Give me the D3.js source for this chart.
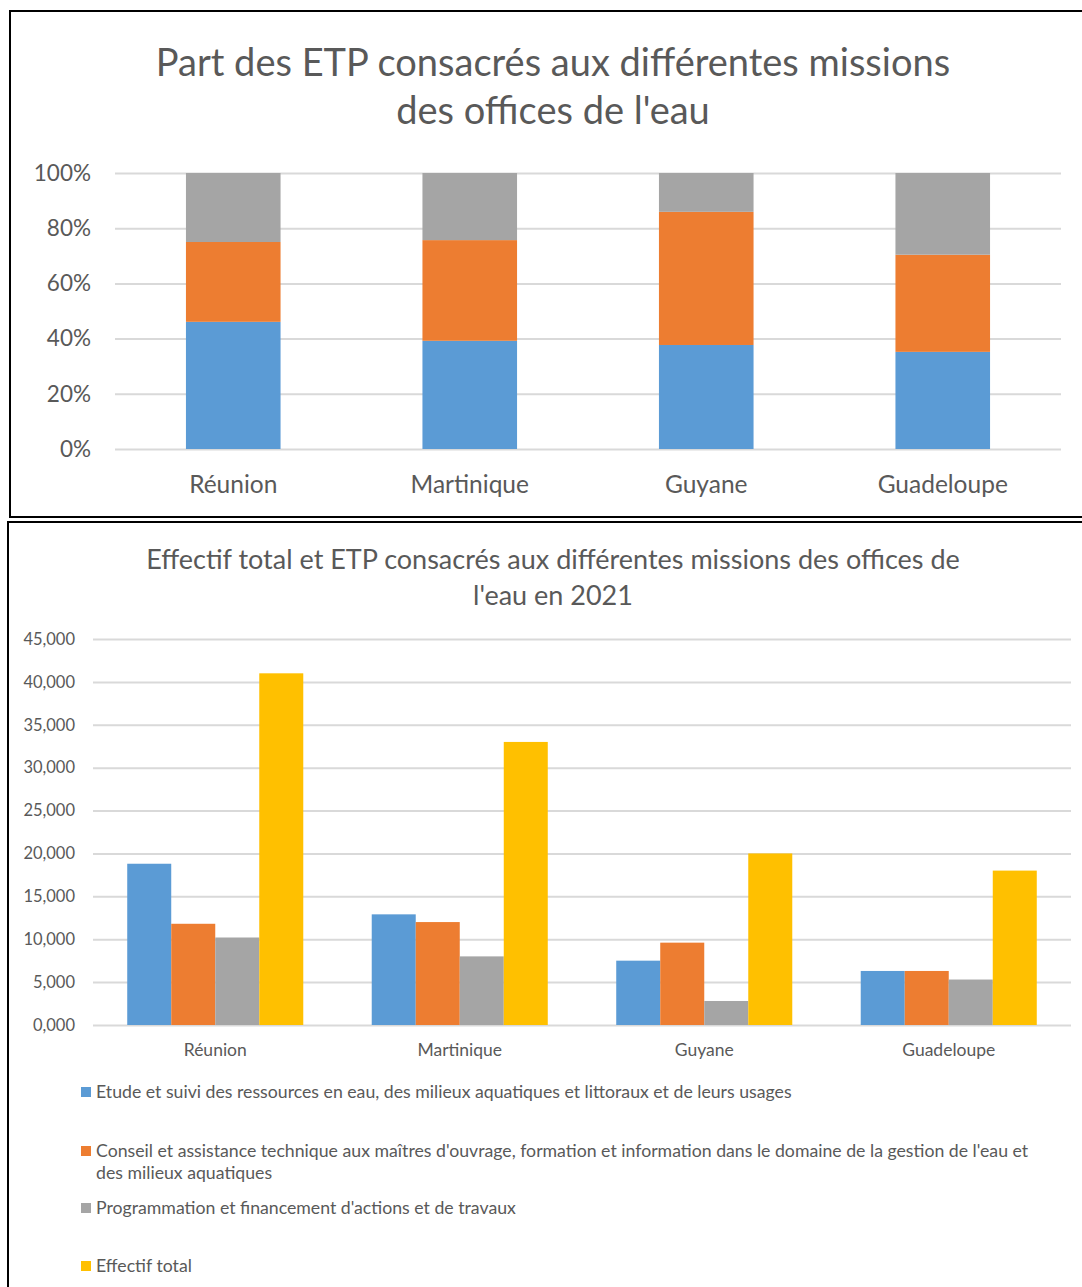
<!DOCTYPE html>
<html>
<head>
<meta charset="utf-8">
<script src="https://cdn.jsdelivr.net/npm/d3@7"></script>
<style>
  html, body { margin: 0; padding: 0; background: #fff; }
  svg { display: block; }
  text { font-family: Lato, "Open Sans", sans-serif; fill: #595959; }
</style>
</head>
<body>
<svg id="chart" width="1082" height="1287"></svg>
<script>
// ---- Data ----
const categories = ["Réunion", "Martinique", "Guyane", "Guadeloupe"];
const seriesNames = [
  "Etude et suivi des ressources en eau, des milieux aquatiques et littoraux et de leurs usages",
  "Conseil et assistance technique aux maîtres d'ouvrage, formation et information dans le domaine de la gestion de l'eau et|des milieux aquatiques",
  "Programmation et financement d'actions et de travaux",
  "Effectif total"
];
const etude = [18.8, 12.9, 7.5, 6.3];
const conseil = [11.8, 12.0, 9.6, 6.3];
const programmation = [10.2, 8.0, 2.8, 5.3];
const effectif = [41, 33, 20, 18];
const colors = ["#5B9BD5", "#ED7D31", "#A5A5A5", "#FFC000"];
const pctTicks = [0, 0.2, 0.4, 0.6, 0.8, 1.0];
const countTicks = [0, 5, 10, 15, 20, 25, 30, 35, 40, 45];
const title1 = ["Part des ETP consacrés aux différentes missions", "des offices de l'eau"];
const title2 = ["Effectif total et ETP consacrés aux différentes missions des offices de", "l'eau en 2021"];

const svg = d3.select("#chart");
const frLocale = d3.formatLocale({ decimal: ",", thousands: " ", grouping: [3], currency: ["", " €"] });
const fmtCount = frLocale.format(".3f");
const fmtPct = d3.format(".0%");

// ---- Frames ----
svg.append("rect").attr("x", 10).attr("y", 11).attr("width", 1090).attr("height", 506)
  .attr("fill", "none").attr("stroke", "#000").attr("stroke-width", 2);
svg.append("rect").attr("x", 8).attr("y", 522).attr("width", 1090).attr("height", 800)
  .attr("fill", "none").attr("stroke", "#000").attr("stroke-width", 2);

// ================= Chart 1: 100% stacked =================
const g1 = svg.append("g");
g1.selectAll("text.title").data(title1).join("text")
  .attr("x", 553).attr("y", (d, i) => 76 + i * 48)
  .attr("text-anchor", "middle").style("font-size", "38px").text(d => d);

const y1 = d3.scaleLinear().domain([0, 1]).range([449, 173]);
const x1 = d3.scaleBand().domain(categories).range([115, 1061]).paddingInner(0.6).paddingOuter(0.3);

const yAx1 = g1.append("g").attr("transform", "translate(115,0)")
  .call(d3.axisLeft(y1).tickValues(pctTicks).tickFormat(fmtPct).tickSize(-946).tickPadding(24));
yAx1.select(".domain").remove();
yAx1.selectAll(".tick line").attr("stroke", "#D9D9D9").attr("stroke-width", 2);
yAx1.selectAll(".tick text").attr("fill", "#595959").style("font-size", "22.5px").style("font-family", "Lato");

const rows = categories.map((c, i) => ({ cat: c, s0: etude[i], s1: conseil[i], s2: programmation[i] }));
const stack = d3.stack().keys(["s0", "s1", "s2"]).offset(d3.stackOffsetExpand);
const stacked = stack(rows);
g1.selectAll("g.layer").data(stacked).join("g")
  .attr("fill", (d, i) => colors[i])
  .selectAll("rect").data(d => d).join("rect")
  .attr("x", d => x1(d.data.cat))
  .attr("width", x1.bandwidth())
  .attr("y", d => y1(d[1]))
  .attr("height", d => y1(d[0]) - y1(d[1]));

const xAx1 = g1.append("g").attr("transform", "translate(0,449)")
  .call(d3.axisBottom(x1).tickSize(0).tickPadding(27));
xAx1.select(".domain").remove();
xAx1.selectAll(".tick text").attr("fill", "#595959").style("font-size", "24.5px").style("font-family", "Lato");

// ================= Chart 2: grouped bars =================
const g2 = svg.append("g");
g2.selectAll("text.title").data(title2).join("text")
  .attr("x", 553).attr("y", (d, i) => 569 + i * 36)
  .attr("text-anchor", "middle").style("font-size", "27px").text(d => d);

const y2 = d3.scaleLinear().domain([0, 45]).range([1025, 639]);
const x2 = d3.scaleBand().domain(categories).range([93, 1071]).paddingInner(0.28).paddingOuter(0.14);
const xs = d3.scaleBand().domain([0, 1, 2, 3]).range([0, x2.bandwidth()]);

const yAx2 = g2.append("g").attr("transform", "translate(93,0)")
  .call(d3.axisLeft(y2).tickValues(countTicks).tickFormat(fmtCount).tickSize(-978).tickPadding(18));
yAx2.select(".domain").remove();
yAx2.selectAll(".tick line").attr("stroke", "#D9D9D9").attr("stroke-width", 2);
yAx2.selectAll(".tick text").attr("fill", "#595959").style("font-size", "16.5px").style("font-family", "Lato");

const series2 = [etude, conseil, programmation, effectif];
const grp = g2.selectAll("g.grp").data(categories).join("g")
  .attr("transform", d => `translate(${x2(d)},0)`);
grp.selectAll("rect").data((c, ci) => series2.map((s, si) => ({ si, v: s[ci] }))).join("rect")
  .attr("x", d => xs(d.si))
  .attr("width", xs.bandwidth())
  .attr("y", d => y2(d.v))
  .attr("height", d => y2(0) - y2(d.v))
  .attr("fill", d => colors[d.si]);

const xAx2 = g2.append("g").attr("transform", "translate(0,1025)")
  .call(d3.axisBottom(x2).tickSize(0).tickPadding(19));
xAx2.select(".domain").remove();
xAx2.selectAll(".tick text").attr("fill", "#595959").style("font-size", "17.5px").style("font-family", "Lato");

// Legend
const legendY = [1092, 1151, 1208, 1266];
const leg = g2.selectAll("g.leg").data(seriesNames).join("g")
  .attr("transform", (d, i) => `translate(81,${legendY[i]})`);
leg.append("rect").attr("x", 0).attr("y", -5).attr("width", 10).attr("height", 10)
  .attr("fill", (d, i) => colors[i]);
leg.append("text").attr("x", 15).attr("y", 6).style("font-size", "17.7px")
  .selectAll("tspan").data(d => d.split("|")).join("tspan")
  .attr("x", 15).attr("dy", (d, i) => i === 0 ? 0 : 22).text(d => d);
</script>
</body>
</html>
